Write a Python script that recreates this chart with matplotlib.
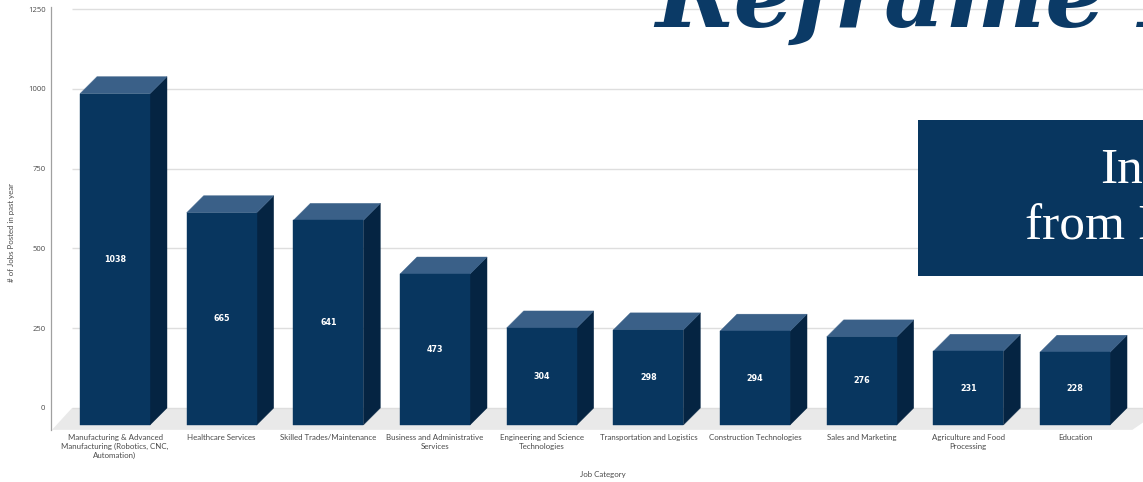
import matplotlib
matplotlib.use("Agg")
import matplotlib.pyplot as plt
from matplotlib.patches import Polygon, Rectangle

# ---- data ----
categories = [
    "Manufacturing & Advanced\nManufacturing (Robotics, CNC,\nAutomation)",
    "Healthcare Services",
    "Skilled Trades/Maintenance",
    "Business and Administrative\nServices",
    "Engineering and Science\nTechnologies",
    "Transportation and Logistics",
    "Construction Technologies",
    "Sales and Marketing",
    "Agriculture and Food\nProcessing",
    "Education",
]
values = [1038, 665, 641, 473, 304, 298, 294, 276, 231, 228]
y_ticks = [0, 250, 500, 750, 1000, 1250]
y_label = "# of Jobs Posted in past year"
x_label = "Job Category"
overlay_title = "Reframe I"
box_line1 = "In"
box_line2 = "from I"

# ---- style ----
W, H = 1143, 482
FRONT = "#08365f"
TOP = "#3a6088"
SIDE = "#052442"
NAVY_TEXT = "#0b3a66"
GRID = "#dedede"
FLOOR = "#e9e9e9"
TXT = "#4a4a4a"

px_per_unit_y = 0.3192          # vertical scale (pixels per value unit)
px_per_cat = 106.67             # horizontal pixels per category
zero_px = 408                   # pixel row of value 0 (back plane)
axes_bottom_px, axes_top_px = 430, 4
axes_left_px = 51
bar_w = 70 / px_per_cat
dx = 17 / px_per_cat
dy = 17 / px_per_unit_y
first_center_px = 115

fig = plt.figure(figsize=(W / 100, H / 100), dpi=100)
ax = fig.add_axes([axes_left_px / W, (H - axes_bottom_px) / H,
                   (W - axes_left_px) / W, (axes_bottom_px - axes_top_px) / H])

ymin = -(axes_bottom_px - zero_px) / px_per_unit_y
ymax = (zero_px - axes_top_px) / px_per_unit_y
xmin = -(first_center_px - axes_left_px) / px_per_cat
xmax = xmin + (W - axes_left_px) / px_per_cat
ax.set_xlim(xmin, xmax)
ax.set_ylim(ymin, ymax)

# floor
floor_back_left = -(first_center_px - 72) / px_per_cat
floor_front_left = -(first_center_px - 52) / px_per_cat
floor = Polygon([(floor_back_left, 0), (xmax + 0.2, 0),
                 (xmax - 0.1, ymin + 0.5), (floor_front_left, ymin + 0.5)],
                closed=True, facecolor=FLOOR, edgecolor="none", zorder=0)
ax.add_patch(floor)

# gridlines
ax.hlines(y_ticks, floor_back_left, xmax + 1, color=GRID, lw=1.0, zorder=1)

# 3D bars
for i, v in enumerate(values):
    x0, x1 = i - bar_w / 2, i + bar_w / 2
    front = Polygon([(x0, -dy), (x1, -dy), (x1, v - dy), (x0, v - dy)],
                    closed=True, facecolor=FRONT, edgecolor=FRONT, lw=0.3,
                    zorder=3)
    top = Polygon([(x0, v - dy), (x1, v - dy), (x1 + dx, v), (x0 + dx, v)],
                  closed=True, facecolor=TOP, edgecolor=TOP, lw=0.3, zorder=3)
    side = Polygon([(x1, -dy), (x1 + dx, 0), (x1 + dx, v), (x1, v - dy)],
                   closed=True, facecolor=SIDE, edgecolor=SIDE, lw=0.3,
                   zorder=3)
    for p in (side, top, front):
        ax.add_patch(p)
    ax.text(i, (v - dy + -dy) / 2, str(v), ha="center", va="center",
            color="white", fontsize=5.8, fontweight="bold",
            family="DejaVu Sans", zorder=4)

# axes styling
for s in ("top", "right", "bottom"):
    ax.spines[s].set_visible(False)
ax.spines["left"].set_color("#a0a0a0")
ax.spines["left"].set_linewidth(0.9)
ax.spines["left"].set_bounds(ymin, 1255)

ax.set_yticks(y_ticks)
ax.set_yticklabels([str(t) for t in y_ticks], fontsize=5.5, color=TXT,
                   family="Open Sans")
ax.tick_params(axis="y", length=0, pad=4)
ax.set_xticks(range(len(categories)))
ax.set_xticklabels(categories, fontsize=5.7, color=TXT, family="Lato",
                   linespacing=1.25)
ax.tick_params(axis="x", length=0, pad=3)

fig.text(603 / W, 1 - 475 / H, x_label, ha="center", va="center",
         fontsize=5.7, color=TXT, family="Lato")
fig.text(12 / W, 1 - 232 / H, y_label, ha="center", va="center",
         rotation=90, fontsize=5.7, color=TXT, family="Lato")

# overlay title
fig.text(655 / W, 1 - 27 / H, overlay_title, ha="left", va="baseline",
         fontsize=68, family="DejaVu Serif", fontweight="bold",
         style="italic", color=NAVY_TEXT, zorder=10)

# overlay box
box = Rectangle((918 / W, (H - 276) / H), (W - 918 + 10) / W, 156 / H,
                transform=fig.transFigure, facecolor="#08365f",
                edgecolor="none", zorder=10)
fig.add_artist(box)
fig.text(1100 / W, 1 - 183 / H, box_line1, ha="left", va="baseline",
         fontsize=37, family="Liberation Serif", color="white", zorder=11)
fig.text(1025 / W, 1 - 240 / H, box_line2, ha="left", va="baseline",
         fontsize=37, family="Liberation Serif", color="white", zorder=11)

fig.savefig("out.png", dpi=100, facecolor="white")
